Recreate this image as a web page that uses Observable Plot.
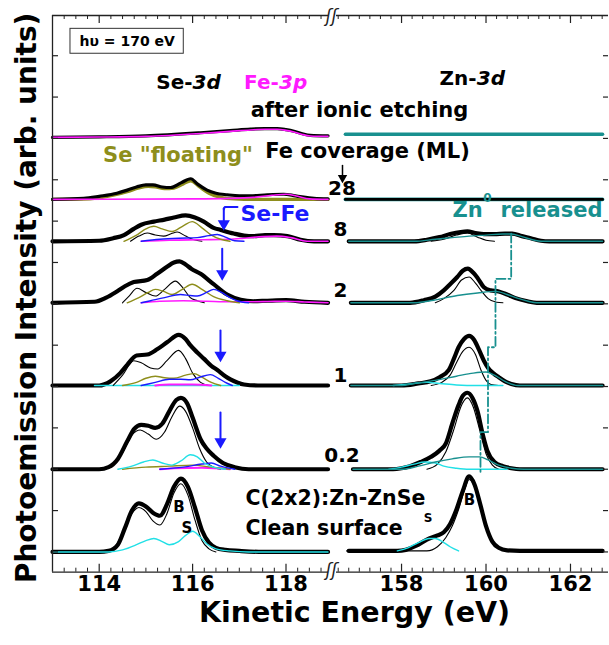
<!DOCTYPE html>
<html><head><meta charset="utf-8">
<script src="https://cdn.jsdelivr.net/npm/d3@7"></script>
<script src="https://cdn.jsdelivr.net/npm/@observablehq/plot@0.6"></script>
<style>body{margin:0;background:#fff}svg{display:block}</style>
</head><body>
<script>
// ---------------- data (kinetic energy eV, intensity above baseline, arb. units) ----------------
const coverageLabels = ["Clean surface", "0.2", "1", "2", "8", "28", "after ionic etching"];
const offsetsSe = [0, 80, 161, 241, 300.5, 341, 401];
const offsetsZn = [1, 80, 161, 241, 300.5, 341, 404];
const xTickLabels = [114, 116, 118, 158, 160, 162];
const yTicks = [0, 40, 80, 120, 160, 200, 240, 280, 320, 360, 400, 440, 480];

// Se-3d / Fe-3p region
const seClean_total = [[113,0],[114.0,0],[114.2,1],[114.4,7],[114.55,23],[114.7,40],[114.85,47],[115.0,44],[115.15,38],[115.3,35],[115.45,46],[115.6,63],[115.75,71],[115.9,63],[116.05,43],[116.2,21],[116.35,9],[116.5,4],[116.7,2],[117.0,1],[117.5,0],[118.9,0]];
const seClean_bulk = [[114.1,0],[114.3,3],[114.5,18],[114.7,37],[114.85,43],[115.0,39],[115.15,30],[115.3,26],[115.45,37],[115.6,57],[115.75,66],[115.9,55],[116.05,31],[116.2,11],[116.35,3],[116.5,0]];
const seClean_surface = [[113,0],[114.2,0],[114.5,2],[114.8,7],[115.0,11],[115.17,13],[115.35,10],[115.5,7],[115.7,10],[115.85,16],[116.0,20],[116.15,15],[116.3,8],[116.5,3],[116.8,1],[117.2,0],[118.9,0]];

const se02_total = [[113,0],[114.0,0],[114.2,2],[114.4,10],[114.6,27],[114.75,39],[114.9,43],[115.05,42],[115.2,40],[115.35,44],[115.5,56],[115.65,67],[115.75,69],[115.88,64],[116.0,50],[116.17,29],[116.3,20],[116.45,13],[116.65,6],[116.9,2],[117.2,0],[118.9,0]];
const se02_bulk = [[114.1,0],[114.3,4],[114.5,16],[114.7,33],[114.88,38],[115.05,34],[115.22,29],[115.4,36],[115.55,50],[115.72,61],[115.85,56],[116.0,40],[116.15,20],[116.3,7],[116.45,2],[116.6,0]];
const se02_surface = [[114.4,0],[114.7,3],[114.95,7],[115.15,9],[115.35,6],[115.55,4],[115.75,8],[115.95,14],[116.1,12],[116.25,6],[116.45,2],[116.7,0]];
const se02_floating = [[114.5,0],[115.0,2],[115.5,3],[116.0,4],[116.4,2],[116.8,0]];
const se02_seFe = [[115.3,0],[115.8,2],[116.2,5],[116.4,6],[116.6,3],[116.9,0]];
const se02_fe = [[115.3,0],[115.6,1],[116.2,1.5],[116.8,0]];

const se1_total = [[113,0],[114.0,0],[114.24,4],[114.45,12],[114.6,20],[114.8,29],[115.03,30],[115.24,35],[115.46,42],[115.7,49],[115.85,45],[115.95,39],[116.1,32],[116.24,26],[116.4,19],[116.53,15],[116.7,9],[116.81,6],[117.1,1],[117.4,0],[118.9,0]];
const se1_bulk = [[114.3,0],[114.5,10],[114.74,24],[114.9,22],[115.1,17],[115.25,16],[115.45,24],[115.7,34],[115.85,26],[116.0,12],[116.17,3],[116.35,0]];
const se1_floating = [[114.5,0],[114.8,3],[115.0,7],[115.2,9],[115.4,7.5],[115.6,7],[115.85,10],[116.03,11.5],[116.2,8],[116.4,3],[116.6,0]];
const se1_seFe = [[114.9,0],[115.2,3],[115.5,6],[115.75,6],[115.95,5.5],[116.15,8],[116.38,10.5],[116.55,7],[116.7,3],[116.85,0]];
const se1_fe = [[115.2,0],[115.5,1],[116.0,1],[116.4,0]];
const se1_surface = [[113.9,0],[117.0,0]];

const se2_total = [[113,0],[113.9,1],[114.15,5],[114.38,11],[114.55,16],[114.74,20],[115.03,22],[115.24,28],[115.46,35],[115.6,39],[115.72,40],[115.85,37],[115.97,33],[116.17,28],[116.45,18],[116.74,8],[117.03,3],[117.3,1.5],[117.6,2],[118.0,2.5],[118.4,1],[118.9,0]];
const se2_bulk = [[114.5,0],[114.65,7],[114.81,14],[115.0,10],[115.2,6.5],[115.4,13],[115.63,21],[115.8,14],[115.95,5],[116.1,2],[116.25,0]];
const se2_floating = [[114.6,0],[114.85,5],[115.05,10],[115.2,13],[115.38,11],[115.56,8],[115.78,13],[115.99,18],[116.2,13],[116.45,6],[116.74,2],[117.0,0]];
const se2_seFe = [[114.9,0],[115.1,2],[115.4,5],[115.74,8],[115.95,7],[116.1,6.5],[116.3,10],[116.45,13],[116.62,10],[116.8,5],[116.95,2],[117.2,0]];
const se2_fe = [[114.9,0],[115.3,1.5],[115.8,2],[116.3,1.5],[116.8,1],[117.2,1],[117.6,1.2],[118.0,1.5],[118.4,0.8],[118.9,0]];

const se8_total = [[113,0],[114.0,0.5],[114.3,3],[114.53,6],[114.74,12],[114.9,16],[115.17,19],[115.4,21],[115.6,23],[115.85,25],[116.05,23],[116.24,19],[116.45,13],[116.6,11],[116.88,7.5],[117.1,5.5],[117.31,5],[117.55,6],[117.74,6],[118.03,5],[118.31,1.5],[118.6,0],[118.9,0]];
const se8_bulk = [[114.67,0],[114.85,5],[115.03,8],[115.2,6],[115.38,5],[115.55,7.5],[115.67,9],[115.85,5],[116.03,1.5],[116.2,0]];
const se8_floating = [[114.53,0],[114.8,6],[115.0,12],[115.17,14.5],[115.35,12],[115.56,9.5],[115.8,15],[115.99,19],[116.2,13],[116.4,6],[116.6,2],[116.8,0]];
const se8_seFe = [[114.9,0],[115.3,2],[115.7,3],[116.1,3.5],[116.35,5.5],[116.53,6.5],[116.7,4],[116.9,0.5],[117.1,0]];
const se8_fe = [[114.9,0],[115.5,1],[116.2,1.5],[116.8,2],[117.1,3],[117.5,4.5],[117.8,5],[118.1,3.5],[118.45,0],[118.9,0]];

const se28_total = [[113,0],[113.67,1],[114.0,3],[114.38,6],[114.6,9],[114.8,12],[115.0,14],[115.15,14],[115.35,12],[115.53,11.5],[115.75,16],[115.96,20],[116.1,15],[116.31,9],[116.5,6],[116.74,4.5],[117.0,3.5],[117.24,3.5],[117.6,4.5],[117.95,5],[118.2,3.5],[118.6,1],[118.9,0.5]];
const se28_floating = [[113,0],[113.8,0.5],[114.3,4],[114.6,7.5],[114.85,11],[115.05,12.5],[115.2,12],[115.4,10.5],[115.6,11],[115.8,15],[115.96,18],[116.15,12],[116.35,6],[116.6,2],[116.9,0.5],[117.3,0],[118.9,0]];
const se28_fe = [[113,0],[116.0,0.5],[116.8,1],[117.3,2],[117.7,4],[118.0,5],[118.25,3],[118.5,0.5],[118.9,0]];

const seEtch_total = [[113,0],[114.0,0.5],[115.0,1.5],[116.17,4.5],[116.8,6.5],[117.24,8],[117.55,8.5],[117.81,8.5],[118.0,7.5],[118.17,6],[118.35,3.5],[118.52,2],[118.9,1.5]];
const seEtch_fe = [[113,0],[114.0,0.3],[115.0,1],[116.17,3.8],[116.8,5.8],[117.24,7.2],[117.55,7.8],[117.81,7.8],[118.0,6.8],[118.17,5.3],[118.35,2.8],[118.52,1.4],[118.9,1]];

// Zn-3d region
const znClean_total = [[156.75,0],[157.9,0],[158.1,1],[158.35,5],[158.6,11],[158.85,15],[159.0,18],[159.15,26],[159.3,40],[159.45,58],[159.6,72],[159.73,64],[159.87,44],[160.0,24],[160.15,9],[160.3,3],[160.5,0.5],[160.8,0],[162.76,0]];
const znClean_bulk = [[156.7,0],[158.6,0],[158.85,4],[159.05,13],[159.2,24],[159.35,40],[159.5,60],[159.6,69],[159.73,62],[159.87,43],[160.0,23],[160.15,8],[160.3,2],[160.5,0],[162.6,0]];
const znClean_surface = [[157.9,0],[158.15,3],[158.4,8],[158.65,12],[158.8,12],[159.0,8],[159.15,4],[159.35,0]];

const zn02_total = [[156.85,0],[157.8,0],[158.0,1],[158.2,3],[158.45,7],[158.7,12],[158.9,18],[159.05,25],[159.2,44],[159.35,62],[159.45,71],[159.56,74],[159.68,69],[159.8,56],[159.92,34],[160.03,18],[160.2,7],[160.4,3],[160.6,1],[160.8,0],[162.76,0]];
const zn02_bulk = [[158.6,0],[158.85,5],[159.05,17],[159.25,40],[159.4,60],[159.56,69],[159.7,60],[159.85,38],[160.0,15],[160.15,4],[160.3,0]];
const zn02_metal = [[156.85,0],[158.0,0],[158.4,3],[158.8,7],[159.2,10],[159.6,12],[159.85,12],[160.05,9],[160.3,4],[160.6,1],[160.9,0],[162.76,0]];
const zn02_surface = [[157.7,0],[158.0,2],[158.3,5],[158.55,7],[158.8,6],[159.0,3],[159.3,1],[159.6,0],[160.5,0]];

const zn1_total = [[156.8,0],[158.0,0],[158.4,2],[158.69,4],[158.9,8],[159.12,15],[159.25,27],[159.35,37],[159.48,45],[159.6,48],[159.72,44],[159.83,35],[159.95,24],[160.05,17],[160.17,12],[160.3,8],[160.45,4],[160.6,1.5],[160.8,0],[162.76,0]];
const zn1_bulk = [[158.7,0],[158.95,3],[159.15,10],[159.3,22],[159.45,33],[159.6,37],[159.75,30],[159.88,15],[160.0,5],[160.12,1],[160.3,0]];
const zn1_metal = [[156.8,0],[158.0,0],[158.3,2],[158.8,5],[159.3,9],[159.7,12],[160.0,13],[160.2,10],[160.45,4],[160.75,0],[162.76,0]];
const zn1_surface = [[157.8,0],[158.2,1.5],[158.6,3],[158.9,2],[159.3,0.5],[159.8,0],[160.4,0]];

const zn2_total = [[156.8,0],[158.2,0],[158.53,2.5],[158.8,6],[159.0,12],[159.15,18],[159.32,25],[159.45,31],[159.57,33],[159.7,29],[159.8,24],[159.95,15],[160.11,12],[160.3,11],[160.5,8],[160.7,4.5],[160.98,1.5],[161.2,0],[162.76,0]];
const zn2_bulk = [[158.8,0],[159.0,4],[159.24,12],[159.42,22],[159.6,25],[159.75,19],[159.9,11],[160.05,4],[160.25,0.5],[160.4,0]];
const zn2_metal = [[156.8,0],[158.3,0],[158.76,2.5],[159.32,7],[159.8,9.5],[160.23,11],[160.5,8],[160.74,4.5],[161.0,1.5],[161.2,0],[162.76,0]];

const zn8_total = [[156.75,0],[158.3,0],[158.6,1.5],[158.9,4],[159.15,7],[159.4,9],[159.56,9.5],[159.75,8],[159.95,7],[160.2,7],[160.45,7.5],[160.62,7.5],[160.85,5],[161.06,3],[161.3,0.5],[161.5,0],[162.76,0]];
const zn8_bulk = [[158.7,0],[159.0,2],[159.3,6],[159.56,8],[159.8,4],[160.0,1],[160.2,0]];
const zn8_metal = [[156.75,0],[158.3,0],[158.8,2],[159.2,3.5],[159.6,5],[160.0,6],[160.4,7],[160.6,7],[160.85,4.5],[161.1,1.5],[161.35,0],[162.76,0]];

const zn28_total = [[156.67,0],[162.76,0]];
const zn28_metal = [[156.67,0],[162.76,0]];
const znEtch_metal = [[156.67,0],[162.76,0]];

// Zn0 released peak position guide (eV, absolute intensity position)
const znReleasedGuide = [[160.596,308],[160.596,264.2],[160.224,264.2],[160.224,198],[160.047,198],[160.047,115.8],[159.869,115.8],[159.869,75.6]];

// ---------------- styling ----------------
const BLACK = "#000", OLIVE = "#8e8e1c", MAG = "#ff1aff", BLUE = "#1a1aff", CYAN = "#22e0e6", TEAL = "#18908f";
const TH = 4.2, TN = 1.1, TC = 1.4;
const S = (pts, off, color, w) => ({pts, off, color, w});
const series = [
  // Se panel
  S(seClean_total, offsetsSe[0], BLACK, TH), S(seClean_bulk, offsetsSe[0], BLACK, TN), S(seClean_surface, offsetsSe[0], CYAN, TC),
  S(se02_total, offsetsSe[1], BLACK, TH), S(se02_bulk, offsetsSe[1], BLACK, TN), S(se02_fe, offsetsSe[1], MAG, 2),
  S(se02_floating, offsetsSe[1], OLIVE, TC), S(se02_seFe, offsetsSe[1], BLUE, TC), S(se02_surface, offsetsSe[1], CYAN, TC),
  S(se1_total, offsetsSe[2], BLACK, TH), S(se1_surface, offsetsSe[2], CYAN, 1.6), S(se1_bulk, offsetsSe[2], BLACK, TN), S(se1_fe, offsetsSe[2], MAG, 2),
  S(se1_floating, offsetsSe[2], OLIVE, TC), S(se1_seFe, offsetsSe[2], BLUE, TC),
  S(se2_total, offsetsSe[3], BLACK, TH), S(se2_bulk, offsetsSe[3], BLACK, TN), S(se2_fe, offsetsSe[3], MAG, 1.6),
  S(se2_floating, offsetsSe[3], OLIVE, TC), S(se2_seFe, offsetsSe[3], BLUE, TC),
  S(se8_total, offsetsSe[4], BLACK, TH), S(se8_bulk, offsetsSe[4], BLACK, TN), S(se8_fe, offsetsSe[4], MAG, 1.6),
  S(se8_floating, offsetsSe[4], OLIVE, TC), S(se8_seFe, offsetsSe[4], BLUE, TC),
  S(se28_floating, offsetsSe[5], OLIVE, 3.2), S(se28_total, offsetsSe[5], BLACK, 3.2), S(se28_fe, offsetsSe[5], MAG, 1.6),
  S(seEtch_total, offsetsSe[6], BLACK, 3.2), S(seEtch_fe, offsetsSe[6], MAG, 1.6),
  // Zn panel
  S(znClean_total, offsetsZn[0], BLACK, TH), S(znClean_bulk, offsetsZn[0], BLACK, TN), S(znClean_surface, offsetsZn[0], CYAN, TC),
  S(zn02_total, offsetsZn[1], BLACK, TH), S(zn02_bulk, offsetsZn[1], BLACK, TN), S(zn02_surface, offsetsZn[1], CYAN, TC), S(zn02_metal, offsetsZn[1], TEAL, TC),
  S(zn1_total, offsetsZn[2], BLACK, TH), S(zn1_bulk, offsetsZn[2], BLACK, TN), S(zn1_surface, offsetsZn[2], CYAN, TC), S(zn1_metal, offsetsZn[2], TEAL, TC),
  S(zn2_total, offsetsZn[3], BLACK, TH), S(zn2_bulk, offsetsZn[3], BLACK, TN), S(zn2_metal, offsetsZn[3], TEAL, TC),
  S(zn8_total, offsetsZn[4], BLACK, TH), S(zn8_bulk, offsetsZn[4], BLACK, TN), S(zn8_metal, offsetsZn[4], TEAL, TC),
  S(zn28_metal, offsetsZn[5], TEAL, 3.6), S(zn28_total, offsetsZn[5], BLACK, 2.6),
  S(znEtch_metal, offsetsZn[6], TEAL, 3.4)
];

const yMin = -19.6, yMax = 518.9;
const xMinor = [...d3.range(113.25, 118.9, 0.25), ...d3.range(156.5, 162.9, 0.25)].filter(v => !xTickLabels.includes(+v.toFixed(2)));
const frameH = 645 - 15 - 73.3, frameW = 609 - 52 - 1;
const F = "'DejaVu Sans', sans-serif";

const T = (str, x, y, o = {}) => Plot.text([str], {x: () => x, y: () => y, text: d => d, fontWeight: "bold", fontSize: 21, fill: BLACK, ...o});
// arrow: shaft + filled triangular head pointing down at (x, y2)
const A = (x, y1, y2, color, w = 2, r = 4.5) => [
  Plot.line([[x, y1], [x, y2 + 6]], {x: d => d[0], y: d => d[1], stroke: color, strokeWidth: w}),
  Plot.dot([[x, y2 + 3.6]], {x: d => d[0], y: d => d[1], symbol: "triangle", rotate: 180, r, fill: color, stroke: "none"})
];

const marks = [
  ...series.map(s => Plot.line(s.pts, {x: d => d[0], y: d => d[1] + s.off, stroke: s.color, strokeWidth: s.w, curve: "monotone-x"})),
  Plot.line(znReleasedGuide, {x: d => d[0], y: d => d[1], stroke: TEAL, strokeWidth: 1.8, strokeDasharray: "9,3,2,3"}),
  // frame pieces
  Plot.ruleX([113], {stroke: "#222", strokeWidth: 1.3}),
  Plot.ruleY([yMin], {x1: 113, x2: 118.91, stroke: "#222", strokeWidth: 1.3}),
  Plot.ruleY([yMin], {x1: 156.46, x2: 162.9, stroke: "#222", strokeWidth: 1.3}),
  Plot.ruleY([yMax], {x1: 113, x2: 118.91, stroke: "#222", strokeWidth: 1.3}),
  Plot.ruleY([yMax], {x1: 156.46, x2: 162.9, stroke: "#222", strokeWidth: 1.3}),
  // ticks
  Plot.ruleX(xTickLabels, {x: d => d, insetTop: frameH - 8, stroke: "#222", strokeWidth: 1.2}),
  Plot.ruleX(xMinor, {x: d => d, insetTop: frameH - 4, stroke: "#222", strokeWidth: 1}),
  Plot.ruleX(xTickLabels, {x: d => d, insetBottom: frameH - 8, stroke: "#222", strokeWidth: 1.2}),
  Plot.ruleX(xMinor, {x: d => d, insetBottom: frameH - 4, stroke: "#222", strokeWidth: 1}),
  Plot.ruleY(yTicks, {y: d => d, insetRight: frameW - 6, stroke: "#222", strokeWidth: 1.2}),
  Plot.ruleY(yTicks, {y: d => d, insetLeft: frameW - 5, stroke: "#222", strokeWidth: 1.2}),
  // axis breaks
  Plot.text(["ʃʃ"], {x: () => 133, y: () => yMin, text: d => d, fontSize: 17, fontStyle: "italic", fill: "#222", dy: -2}),
  Plot.text(["ʃʃ"], {x: () => 133, y: () => yMax, text: d => d, fontSize: 17, fontStyle: "italic", fill: "#222", dy: 1}),
  // tick labels
  Plot.text(xTickLabels, {x: d => d, text: d => String(d), frameAnchor: "bottom", dy: 19, fontSize: 21, fontWeight: "bold"}),
  // axis titles
  Plot.text(["Photoemission Intensity (arb. units)"], {frameAnchor: "left", textAnchor: "middle", dx: -25, dy: 4, rotate: -90, fontSize: 28, fontWeight: "bold", text: d => d}),
  Plot.text(["Kinetic Energy (eV)"], {frameAnchor: "bottom", textAnchor: "middle", dx: 24, dy: 50, fontSize: 28.5, fontWeight: "bold", text: d => d}),
  // annotations
  Plot.rect([0], {x1: () => 113.385, x2: () => 115.811, y1: () => 481.9, y2: () => 506.0, fill: "none", stroke: "#333", strokeWidth: 1}),
  T("hυ = 170 eV", 114.6, 493.8, {fontSize: 14}),
  T("Se-", 115.998, 453.6, {textAnchor: "end", fontSize: 20}),
  T("3d", 116.0, 453.6, {textAnchor: "start", fontSize: 20, fontStyle: "italic"}),
  T("Fe-", 117.846, 454, {textAnchor: "end", fontSize: 20, fill: MAG}),
  T("3p", 117.85, 454, {textAnchor: "start", fontSize: 20, fontStyle: "italic", fill: MAG}),
  T(coverageLabels[6], 157.005, 427.0),
  T("Se \"floating\"", 115.687, 383.5, {fill: OLIVE}),
  T("Fe coverage (ML)", 157.194, 387.4),
  ...A(156.602, 373.8, 358.3, BLACK, 1.5, 3.5),
  T(coverageLabels[5], 156.59, 351.6, {fontSize: 20}),
  T(coverageLabels[4], 156.555, 311.4, {fontSize: 20}),
  T(coverageLabels[3], 156.555, 252.4, {fontSize: 20}),
  T(coverageLabels[2], 156.555, 170.7, {fontSize: 20}),
  T(coverageLabels[1], 156.59, 92.8, {fontSize: 20}),
  T("C(2x2):Zn-ZnSe", 117.133, 52.2, {textAnchor: "start", fontSize: 20.5}),
  T(coverageLabels[0], 117.133, 22.7, {textAnchor: "start", fontSize: 20.5}),
  T("B", 115.709, 43.5, {fontSize: 15}),
  T("S", 115.88, 23.2, {fontSize: 15}),
  T("B", 159.61, 49.7, {fontSize: 15}),
  T("S", 158.626, 32.3, {fontSize: 12}),
  T("Zn-", 159.774, 458.0, {textAnchor: "end", fontSize: 20}),
  T("3d", 159.78, 458.0, {textAnchor: "start", fontSize: 20, fontStyle: "italic"}),
  T("Zn", 159.206, 330.2, {textAnchor: "start", fill: TEAL}),
  T("0", 160.035, 341.9, {fontSize: 12, fill: TEAL}),
  T("released", 160.343, 330.2, {textAnchor: "start", fill: TEAL}),
  T("Se-Fe", 117.026, 326.9, {textAnchor: "start", fontSize: 22, fill: BLUE}),
  Plot.line([[116.961, 333.7], [116.69, 333.7], [116.668, 331.5]], {x: d => d[0], y: d => d[1], stroke: BLUE, strokeWidth: 2}),
  ...A(116.668, 332.5, 313.9, BLUE),
  ...A(116.634, 293.2, 265.5, BLUE),
  ...A(116.597, 214.2, 186.6, BLUE),
  ...A(116.597, 134.9, 103.0, BLUE)
];

const chart = Plot.plot({
  width: 609, height: 645,
  marginLeft: 52, marginRight: 1, marginTop: 15, marginBottom: 73.3,
  style: {fontFamily: F, background: "#fff", color: "#000"},
  x: {type: "linear", domain: [113, 118.91, 156.46, 162.9], range: [52, 328, 336, 608], axis: null},
  y: {domain: [yMin, yMax], axis: null},
  marks
});
document.body.appendChild(chart);
</script>
</body></html>
